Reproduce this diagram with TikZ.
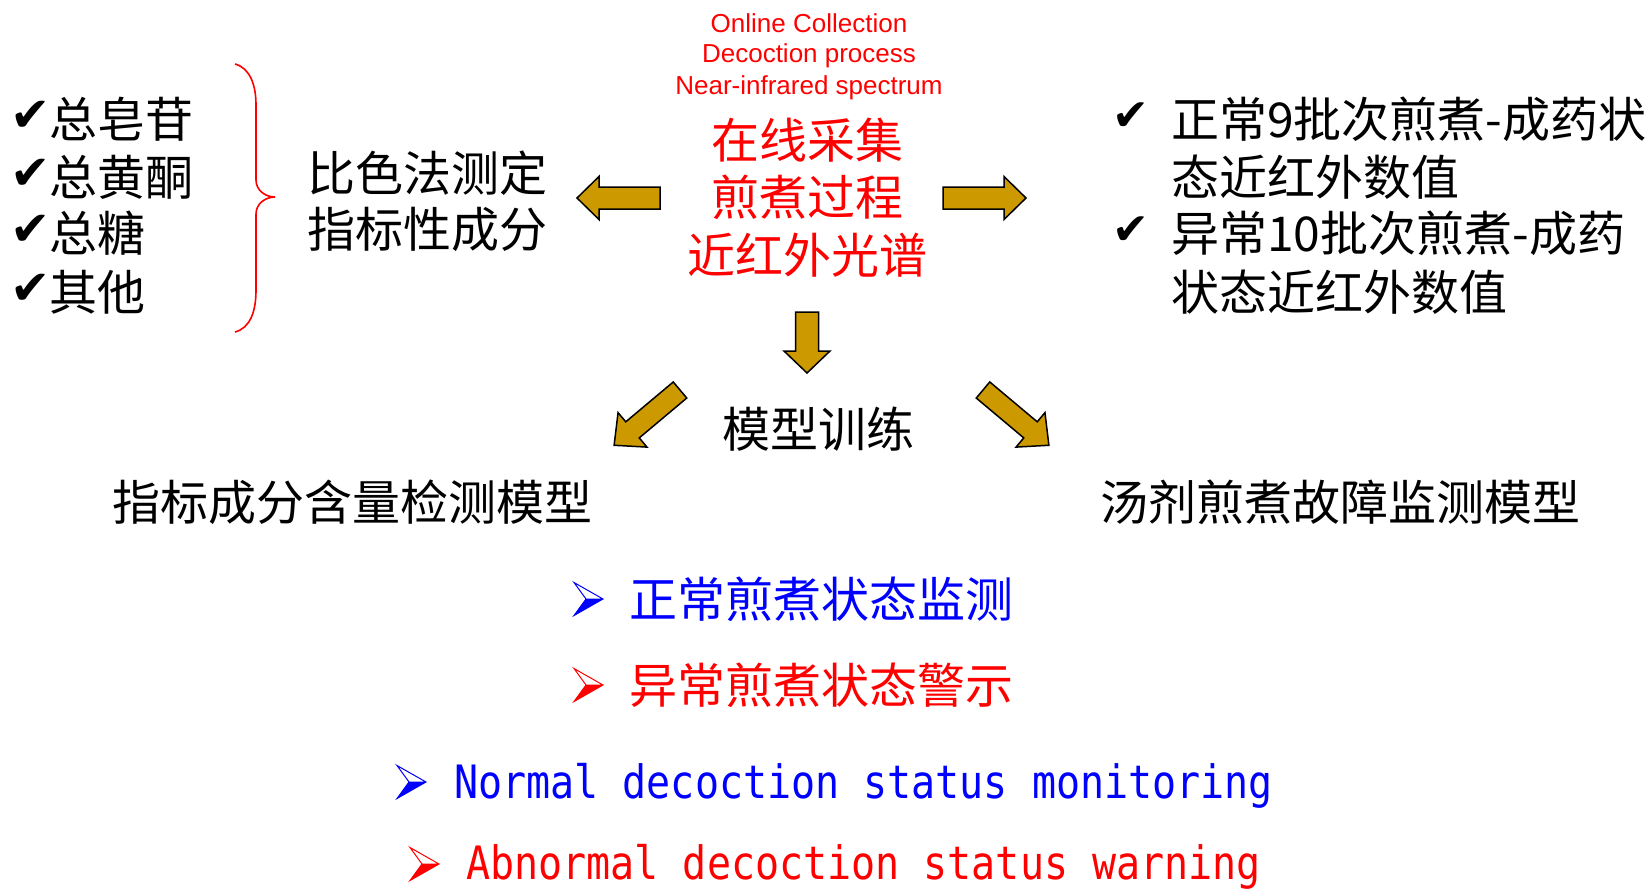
\documentclass[tikz,border=0pt]{standalone}
\usepackage{fontspec}
\usepackage{graphicx}
\newfontfamily\cjk{Noto Sans CJK SC}
\newfontfamily\arial{Liberation Sans}
\newfontfamily\monof{DejaVu Sans Mono}
\newfontfamily\dvs{DejaVu Sans}
\definecolor{arrowgold}{HTML}{CC9900}
\definecolor{pred}{HTML}{FF0000}
\definecolor{pblue}{HTML}{0000FF}
\tikzset{
  cjkbig/.style={inner sep=0pt, font=\cjk\fontsize{48}{56}\selectfont},
  entop/.style={inner sep=0pt, font=\arial\fontsize{26}{32}\selectfont, text=pred},
  chkmark/.style={inner sep=0pt, font=\dvs\fontsize{48}{54}\selectfont},
  chkmarkr/.style={inner sep=0pt, font=\dvs\fontsize{44}{50}\selectfont},
  engline/.style={inner sep=0pt, anchor=base west, font=\monof\fontsize{40}{48}\selectfont},
  blockarrow/.style={fill=arrowgold, draw=black, line width=1.5pt, line join=miter},
  pics/barrow/.style n args={4}{code={
    \path[blockarrow] (0,-#4) -- ({#1-#2},-#4) -- ({#1-#2},-#3) -- (#1,0) -- ({#1-#2},#3) -- ({#1-#2},#4) -- (0,#4) -- cycle;
  }},
  pics/bulletmark/.style={code={
    \fill[#1] (12,0) -- (29,0) -- (0,16.5) -- cycle;
    \draw[#1, line width=1pt, line join=miter] (0,-16.5) -- (29,0) -- (0,16.5) -- (12,0) -- cycle (12,0) -- (29,0);
  }},
}
\begin{document}
\begin{tikzpicture}[x=1pt,y=-1pt]
\useasboundingbox (0,0) rectangle (1648,889);

% top red text
\node[entop] (e1) at (809,23) {Online Collection};
\node[entop] (e2) at (809,56) {Decoction process};
\node[entop] (e3) at (809,88) {Near-infrared spectrum};
\node[cjkbig, text=pred] (c1) at (807,140) {在线采集};
\node[cjkbig, text=pred] (c2) at (807,197) {煎煮过程};
\node[cjkbig, text=pred] (c3) at (807,255) {近红外光谱};

% left list
\node[chkmark] (k1) at (31,116) {✔};
\node[chkmark] (k2) at (31,174) {✔};
\node[chkmark] (k3) at (31,230) {✔};
\node[chkmark] (k4) at (31,289) {✔};
\node[cjkbig, anchor=west] (l1) at (49,119) {总皂苷};
\node[cjkbig, anchor=west] (l2) at (49,177) {总黄酮};
\node[cjkbig, anchor=west] (l3) at (49,233) {总糖};
\node[cjkbig, anchor=west] (l4) at (49,292) {其他};

% brace
\draw[pred, line width=1.6pt] (235,64) .. controls (250,68) and (256,85) .. (256,105) -- (256,180)
  .. controls (256,190) and (265,197) .. (275,197)
  .. controls (265,197) and (256,204) .. (256,214) -- (256,290)
  .. controls (256,312) and (250,328) .. (235,332);

\node[cjkbig] (m1) at (427,173) {比色法测定};
\node[cjkbig] (m2) at (427,229) {指标性成分};

% right list
\node[chkmarkr] (r1) at (1131,117) {✔};
\node[chkmarkr] (r2) at (1131,231) {✔};
\node[cjkbig, anchor=west] (t1) at (1171,119) {正常9批次煎煮-成药状};
\node[cjkbig, anchor=west] (t2) at (1171,177) {态近红外数值};
\node[cjkbig, anchor=west] (t3) at (1171,233) {异常10批次煎煮-成药};
\node[cjkbig, anchor=west] (t4) at (1171,292) {状态近红外数值};

% block arrows
\pic[rotate=180] at (660,198) {barrow={83}{22}{21.5}{11}};
\pic at (943,198) {barrow={83}{22}{21.5}{11}};
\pic[rotate=270] at (807,312) {barrow={61}{22}{23}{11.5}};
\pic[rotate=220] at (680,390) {barrow={86}{24}{22.5}{10.5}};
\pic[rotate=320] at (983,390) {barrow={86}{24}{22.5}{10.5}};

\node[cjkbig] (train) at (818,429) {模型训练};
\node[cjkbig] (h1) at (352,502) {指标成分含量检测模型};
\node[cjkbig] (h2) at (1340,502) {汤剂煎煮故障监测模型};

% bottom bullets
\pic at (574,599) {bulletmark=pblue};
\node[cjkbig, anchor=west, text=pblue] (b1) at (629,599) {正常煎煮状态监测};
\pic at (574,685) {bulletmark=pred};
\node[cjkbig, anchor=west, text=pred] (b2) at (629,685) {异常煎煮状态警示};

\pic at (397,782) {bulletmark=pblue};
\node[engline, text=pblue] (n1) at (454,798) {\scalebox{1}[1.15]{Normal decoction status monitoring}};
\pic at (410,864) {bulletmark=pred};
\node[engline, text=pred] (n2) at (466,879) {\scalebox{1}[1.15]{Abnormal decoction status warning}};
\end{tikzpicture}
\end{document}
